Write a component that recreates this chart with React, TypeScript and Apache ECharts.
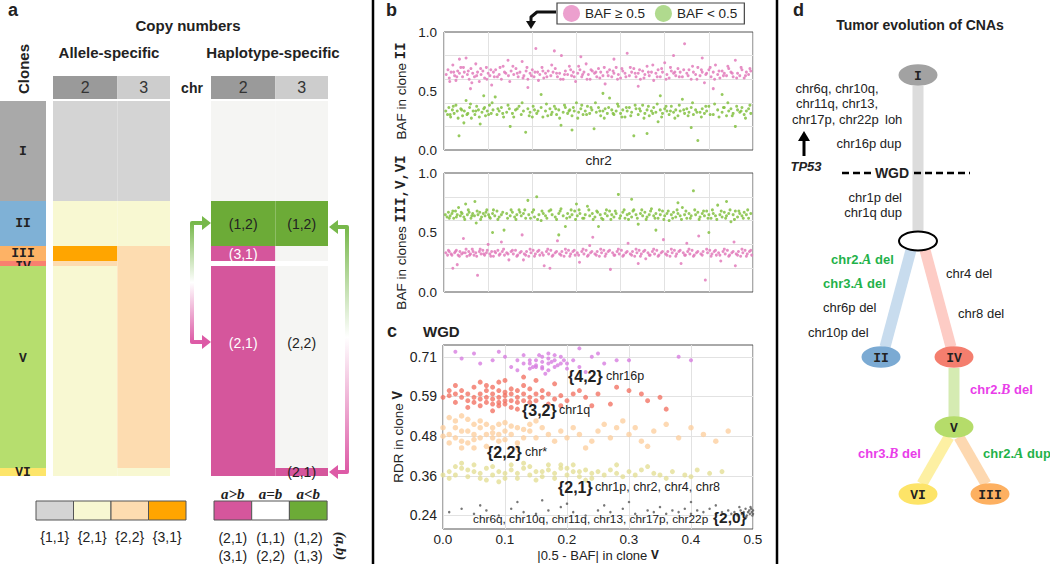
import React, { useEffect, useRef } from 'react';
import * as echarts from 'echarts';

const FF = 'Liberation Sans';
const MONO = 'Liberation Mono';
const SERIF = 'Liberation Serif';

// ---------- Panel a data ----------
const chrNames = ['2', '3'];
const chrLengths = [242, 198];
const cloneNames = ['I', 'II', 'III', 'IV', 'V', 'VI'];
const cloneSizes = [100, 45, 15, 5, 202, 8];
const cloneColors = ['#a9a9a9', '#7fb1d6', '#fdb265', '#f9806f', '#b6de6e', '#fde56a'];
const alleleStates = [
  ['1,1', '1,1'],
  ['2,1', '2,1'],
  ['3,1', '2,2'],
  ['2,2', '2,2'],
  ['2,1', '2,2'],
  ['2,1', '2,1'],
];
const haploStates = [
  ['1,1', '1,1'],
  ['1,2', '1,2'],
  ['3,1', '2,2'],
  ['-', '-'],
  ['2,1', '2,2'],
  ['2,1', '2,1'],
];
const haploText = [
  ['', ''],
  ['(1,2)', '(1,2)'],
  ['(3,1)', ''],
  ['', ''],
  ['(2,1)', '(2,2)'],
  ['', '(2,1)'],
];
const alleleLegend = ['{1,1}', '{2,1}', '{2,2}', '{3,1}'];
const alleleLegendKeys = ['1,1', '2,1', '2,2', '3,1'];
const haploLegendTop = ['a>b', 'a=b', 'a<b'];
const haploLegendRow1 = ['(2,1)', '(1,1)', '(1,2)'];
const haploLegendRow2 = ['(3,1)', '(2,2)', '(1,3)'];

// ---------- Panel b data ----------
const b1Pink = [[0.05,0.64],[0.09,0.68],[0.12,0.61],[0.16,0.66],[0.2,0.72],[0.24,0.63],[0.27,0.59],[0.31,0.67],[0.35,0.65],[0.38,0.7],[0.42,0.62],[0.46,0.66],[0.5,0.78],[0.53,0.64],[0.57,0.6],[0.61,0.69],[0.65,0.65],[0.69,0.62],[0.72,0.73],[0.76,0.66],[0.8,0.58],[0.84,0.64],[0.88,0.67],[0.92,0.61],[0.96,0.7],[1.0,0.65],[1.04,0.63],[1.08,0.55],[1.12,0.66],[1.17,0.68],[1.21,0.62],[1.25,0.64],[1.3,0.6],[1.34,0.71],[1.4,0.65],[1.46,0.63],[1.52,0.67],[1.58,0.64],[1.63,0.69],[1.68,0.62],[1.72,0.66],[1.77,0.75],[1.81,0.63],[1.86,0.67],[1.9,0.6],[1.95,0.65],[2.0,0.68],[2.04,0.62],[2.08,0.86],[2.12,0.66],[2.17,0.64],[2.22,0.7],[2.26,0.61],[2.3,0.65],[2.36,0.67],[2.42,0.63],[2.47,0.66],[2.52,0.69],[2.57,0.62],[2.62,0.65],[2.66,0.8],[2.7,0.6],[2.75,0.67],[2.8,0.64],[2.84,0.71],[2.89,0.63],[2.93,0.66],[2.98,0.58],[3.03,0.65],[3.08,0.68],[3.12,0.62],[3.17,0.66],[3.22,0.73],[3.27,0.64],[3.31,0.6],[3.36,0.67],[3.41,0.65],[3.46,0.62],[3.5,0.69],[3.55,0.66],[3.6,0.63],[3.65,0.56],[3.7,0.66],[3.75,0.68],[3.8,0.62],[3.85,0.65],[3.9,0.7],[3.95,0.64],[4.0,0.61],[4.05,0.67],[4.1,0.65],[4.15,0.82],[4.2,0.63],[4.25,0.66],[4.3,0.69],[4.35,0.62],[4.4,0.65],[4.45,0.6],[4.5,0.67],[4.55,0.64],[4.6,0.71],[4.65,0.63],[4.7,0.66],[4.75,0.59],[4.8,0.65],[4.85,0.68],[4.9,0.62],[4.95,0.66],[5.0,0.74],[5.05,0.64],[5.1,0.61],[5.15,0.67],[5.2,0.65],[5.25,0.63],[5.3,0.69],[5.35,0.66],[5.4,0.62],[5.45,0.9],[5.5,0.65],[5.55,0.68],[5.6,0.6],[5.65,0.66],[5.7,0.64],[5.75,0.7],[5.8,0.63],[5.85,0.66],[5.9,0.57],[5.95,0.65],[6.0,0.68],[6.05,0.62],[6.1,0.66],[6.15,0.72],[6.2,0.64],[6.25,0.61],[6.3,0.67],[6.35,0.65],[6.4,0.63],[6.45,0.69],[6.5,0.66],[6.55,0.62],[6.6,0.76],[6.65,0.65],[6.7,0.63],[6.75,0.68],[6.8,0.61],[6.85,0.66],[6.9,0.64],[6.95,0.67]];
const b1PinkB = [[0.13,0.58],[0.22,0.66],[0.29,0.62],[0.44,0.7],[0.55,0.67],[0.63,0.57],[0.74,0.63],[0.83,0.69],[0.97,0.6],[1.06,0.68],[1.14,0.62],[1.27,0.7],[1.37,0.66],[1.49,0.58],[1.56,0.71],[1.66,0.65],[1.79,0.61],[1.88,0.7],[1.98,0.63],[2.06,0.66],[2.14,0.59],[2.24,0.67],[2.33,0.62],[2.44,0.72],[2.55,0.65],[2.64,0.6],[2.73,0.64],[2.87,0.68],[2.95,0.62],[3.05,0.71],[3.14,0.64],[3.24,0.6],[3.33,0.68],[3.44,0.66],[3.53,0.61],[3.63,0.7],[3.72,0.63],[3.83,0.67],[3.93,0.6],[4.03,0.69],[4.12,0.62],[4.22,0.7],[4.33,0.65],[4.43,0.68],[4.53,0.61],[4.63,0.66],[4.73,0.72],[4.83,0.62],[4.93,0.69],[5.03,0.6],[5.13,0.7],[5.23,0.66],[5.33,0.62],[5.43,0.68],[5.53,0.63],[5.63,0.71],[5.73,0.6],[5.83,0.68],[5.93,0.64],[6.03,0.7],[6.13,0.6],[6.23,0.67],[6.33,0.63],[6.43,0.71],[6.53,0.65],[6.63,0.61],[6.73,0.7],[6.83,0.63],[6.93,0.69],[0.6,0.52],[1.9,0.53],[3.1,0.79],[4.4,0.54],[5.2,0.8],[6.1,0.52],[2.5,0.84],[0.35,0.77],[1.45,0.76],[3.85,0.77],[5.85,0.78]];
const b1Green = [[0.04,0.33],[0.08,0.3],[0.11,0.36],[0.15,0.28],[0.19,0.34],[0.23,0.31],[0.27,0.38],[0.3,0.33],[0.34,0.12],[0.38,0.35],[0.42,0.29],[0.46,0.33],[0.5,0.42],[0.54,0.31],[0.58,0.36],[0.62,0.27],[0.66,0.33],[0.7,0.3],[0.74,0.37],[0.78,0.34],[0.82,0.22],[0.86,0.32],[0.9,0.35],[0.94,0.29],[0.98,0.33],[1.03,0.38],[1.07,0.31],[1.11,0.34],[1.16,0.45],[1.2,0.3],[1.25,0.33],[1.3,0.36],[1.35,0.28],[1.42,0.32],[1.48,0.35],[1.55,0.31],[1.62,0.34],[1.7,0.37],[1.75,0.3],[1.8,0.33],[1.85,0.15],[1.9,0.35],[1.95,0.32],[2.0,0.28],[2.05,0.34],[2.1,0.31],[2.2,0.36],[2.3,0.33],[2.35,0.29],[2.4,0.35],[2.45,0.32],[2.5,0.37],[2.55,0.3],[2.6,0.34],[2.65,0.21],[2.7,0.32],[2.75,0.36],[2.8,0.31],[2.85,0.34],[2.9,0.29],[2.95,0.33],[3.0,0.4],[3.05,0.32],[3.1,0.35],[3.15,0.3],[3.2,0.33],[3.25,0.37],[3.3,0.31],[3.35,0.34],[3.4,0.18],[3.45,0.32],[3.5,0.36],[3.55,0.29],[3.6,0.33],[3.65,0.35],[3.7,0.31],[3.75,0.44],[3.8,0.34],[3.85,0.3],[3.9,0.33],[3.95,0.37],[4.0,0.31],[4.05,0.34],[4.1,0.28],[4.15,0.33],[4.2,0.36],[4.25,0.32],[4.3,0.12],[4.35,0.35],[4.4,0.3],[4.45,0.33],[4.5,0.38],[4.55,0.31],[4.6,0.34],[4.65,0.29],[4.7,0.33],[4.75,0.36],[4.8,0.32],[4.85,0.24],[4.9,0.34],[4.95,0.31],[5.0,0.35],[5.05,0.33],[5.1,0.3],[5.15,0.37],[5.2,0.32],[5.25,0.34],[5.3,0.29],[5.35,0.33],[5.4,0.43],[5.45,0.31],[5.5,0.35],[5.55,0.32],[5.6,0.36],[5.65,0.3],[5.7,0.34],[5.75,0.08],[5.8,0.32],[5.85,0.35],[5.9,0.31],[5.95,0.33],[6.0,0.37],[6.1,0.3],[6.2,0.34],[6.3,0.32],[6.35,0.36],[6.4,0.29],[6.45,0.33],[6.5,0.35],[6.55,0.31],[6.6,0.2],[6.65,0.34],[6.7,0.32],[6.75,0.36],[6.8,0.3],[6.85,0.33],[6.9,0.35],[6.95,0.31]];
const b1GreenB = [[0.14,0.3],[0.21,0.37],[0.32,0.27],[0.4,0.34],[0.52,0.3],[0.6,0.39],[0.72,0.33],[0.8,0.28],[0.92,0.36],[1.01,0.3],[1.09,0.4],[1.22,0.35],[1.33,0.31],[1.45,0.38],[1.58,0.28],[1.66,0.35],[1.77,0.4],[1.93,0.29],[2.02,0.37],[2.13,0.33],[2.24,0.28],[2.32,0.39],[2.43,0.3],[2.53,0.35],[2.62,0.27],[2.73,0.38],[2.83,0.33],[2.93,0.36],[3.03,0.27],[3.12,0.38],[3.23,0.3],[3.33,0.36],[3.43,0.4],[3.53,0.33],[3.63,0.27],[3.73,0.36],[3.83,0.31],[3.93,0.39],[4.03,0.28],[4.13,0.36],[4.23,0.29],[4.33,0.38],[4.43,0.35],[4.53,0.27],[4.63,0.37],[4.73,0.31],[4.83,0.39],[4.93,0.28],[5.03,0.37],[5.13,0.33],[5.23,0.27],[5.33,0.38],[5.43,0.34],[5.53,0.29],[5.63,0.4],[5.73,0.32],[5.83,0.28],[5.93,0.37],[6.03,0.3],[6.13,0.39],[6.23,0.28],[6.33,0.36],[6.43,0.4],[6.53,0.29],[6.63,0.37],[6.73,0.33],[6.83,0.27],[6.93,0.38],[0.9,0.46],[2.2,0.47],[3.6,0.48],[4.9,0.46],[6.3,0.47],[1.5,0.2],[2.9,0.17],[4.6,0.14],[5.6,0.19],[0.45,0.23]];
const b2Green = [[0.03,0.65],[0.07,0.63],[0.1,0.67],[0.14,0.64],[0.18,0.66],[0.22,0.62],[0.26,0.68],[0.3,0.65],[0.33,0.71],[0.37,0.64],[0.41,0.66],[0.45,0.63],[0.49,0.74],[0.53,0.65],[0.57,0.67],[0.61,0.62],[0.65,0.66],[0.69,0.64],[0.73,0.58],[0.77,0.65],[0.81,0.67],[0.85,0.63],[0.89,0.66],[0.93,0.64],[0.97,0.69],[1.01,0.65],[1.05,0.62],[1.1,0.66],[1.15,0.64],[1.2,0.68],[1.25,0.63],[1.3,0.65],[1.36,0.52],[1.42,0.66],[1.5,0.64],[1.55,0.67],[1.6,0.63],[1.65,0.65],[1.7,0.69],[1.75,0.64],[1.8,0.66],[1.85,0.62],[1.92,0.65],[2.0,0.67],[2.05,0.63],[2.1,0.8],[2.15,0.65],[2.2,0.6],[2.25,0.66],[2.3,0.64],[2.38,0.68],[2.45,0.65],[2.52,0.63],[2.6,0.66],[2.65,0.7],[2.7,0.64],[2.75,0.55],[2.8,0.66],[2.85,0.63],[2.9,0.65],[2.96,0.68],[3.02,0.64],[3.08,0.66],[3.14,0.62],[3.2,0.65],[3.25,0.72],[3.3,0.64],[3.36,0.66],[3.42,0.63],[3.48,0.67],[3.54,0.65],[3.6,0.61],[3.65,0.66],[3.7,0.64],[3.75,0.68],[3.8,0.65],[3.85,0.63],[3.9,0.66],[3.95,0.82],[4.0,0.64],[4.05,0.67],[4.1,0.62],[4.15,0.65],[4.2,0.66],[4.25,0.63],[4.3,0.69],[4.35,0.65],[4.4,0.57],[4.45,0.66],[4.5,0.64],[4.55,0.67],[4.6,0.63],[4.65,0.65],[4.7,0.7],[4.75,0.64],[4.8,0.66],[4.85,0.62],[4.9,0.65],[4.95,0.68],[5.0,0.64],[5.05,0.66],[5.1,0.6],[5.15,0.65],[5.2,0.67],[5.25,0.63],[5.3,0.66],[5.35,0.64],[5.4,0.71],[5.45,0.65],[5.5,0.62],[5.55,0.66],[5.6,0.64],[5.65,0.85],[5.7,0.65],[5.75,0.67],[5.8,0.63],[5.85,0.66],[5.9,0.64],[5.95,0.68],[6.0,0.65],[6.05,0.62],[6.1,0.66],[6.15,0.64],[6.2,0.73],[6.25,0.65],[6.3,0.63],[6.35,0.67],[6.4,0.64],[6.45,0.66],[6.5,0.59],[6.55,0.65],[6.6,0.68],[6.65,0.63],[6.7,0.66],[6.75,0.64],[6.8,0.67],[6.85,0.65],[6.9,0.62],[6.95,0.66]];
const b2GreenB = [[0.12,0.62],[0.2,0.68],[0.28,0.63],[0.39,0.67],[0.47,0.61],[0.55,0.69],[0.63,0.64],[0.75,0.68],[0.83,0.61],[0.95,0.67],[1.03,0.63],[1.12,0.69],[1.22,0.61],[1.33,0.67],[1.44,0.62],[1.52,0.69],[1.63,0.61],[1.72,0.67],[1.83,0.69],[1.96,0.62],[2.03,0.69],[2.12,0.61],[2.22,0.68],[2.33,0.62],[2.42,0.69],[2.55,0.61],[2.63,0.68],[2.78,0.62],[2.88,0.69],[2.98,0.61],[3.06,0.69],[3.17,0.62],[3.28,0.69],[3.38,0.61],[3.46,0.68],[3.57,0.62],[3.68,0.69],[3.78,0.61],[3.88,0.68],[3.98,0.62],[4.08,0.69],[4.18,0.61],[4.28,0.68],[4.38,0.62],[4.48,0.69],[4.58,0.61],[4.68,0.68],[4.78,0.62],[4.88,0.69],[4.98,0.61],[5.08,0.68],[5.18,0.62],[5.28,0.69],[5.38,0.61],[5.48,0.68],[5.58,0.62],[5.68,0.69],[5.78,0.61],[5.88,0.68],[5.98,0.62],[6.08,0.69],[6.18,0.61],[6.28,0.68],[6.38,0.62],[6.48,0.69],[6.58,0.61],[6.68,0.68],[6.78,0.62],[6.88,0.69],[0.7,0.76],[1.9,0.77],[3.0,0.74],[4.25,0.78],[5.3,0.75],[6.4,0.76],[1.1,0.5],[2.6,0.48],[3.5,0.55],[4.8,0.52],[6.0,0.5]];
const b2Pink = [[0.04,0.33],[0.08,0.31],[0.12,0.34],[0.16,0.32],[0.2,0.2],[0.24,0.33],[0.28,0.35],[0.32,0.31],[0.36,0.34],[0.4,0.32],[0.44,0.45],[0.48,0.33],[0.52,0.3],[0.56,0.34],[0.6,0.32],[0.64,0.36],[0.68,0.31],[0.72,0.33],[0.76,0.14],[0.8,0.34],[0.84,0.32],[0.88,0.35],[0.92,0.31],[0.96,0.33],[1.0,0.4],[1.04,0.32],[1.08,0.34],[1.12,0.3],[1.17,0.33],[1.22,0.35],[1.27,0.32],[1.32,0.34],[1.37,0.31],[1.42,0.33],[1.47,0.27],[1.52,0.34],[1.57,0.32],[1.62,0.35],[1.67,0.31],[1.72,0.33],[1.77,0.48],[1.82,0.32],[1.87,0.34],[1.92,0.3],[1.97,0.33],[2.02,0.35],[2.07,0.32],[2.12,0.34],[2.17,0.31],[2.22,0.33],[2.27,0.22],[2.32,0.34],[2.37,0.32],[2.42,0.35],[2.47,0.31],[2.52,0.33],[2.57,0.43],[2.62,0.32],[2.67,0.34],[2.72,0.3],[2.77,0.33],[2.82,0.35],[2.87,0.32],[2.92,0.34],[2.97,0.31],[3.02,0.33],[3.07,0.25],[3.12,0.34],[3.17,0.32],[3.22,0.35],[3.27,0.31],[3.32,0.33],[3.37,0.46],[3.42,0.32],[3.47,0.34],[3.52,0.3],[3.57,0.33],[3.62,0.35],[3.67,0.32],[3.72,0.34],[3.77,0.19],[3.82,0.33],[3.87,0.31],[3.92,0.34],[3.97,0.32],[4.02,0.35],[4.07,0.31],[4.12,0.33],[4.17,0.41],[4.22,0.32],[4.27,0.34],[4.32,0.3],[4.37,0.33],[4.42,0.35],[4.47,0.32],[4.52,0.34],[4.57,0.28],[4.62,0.33],[4.67,0.31],[4.72,0.34],[4.77,0.32],[4.82,0.35],[4.87,0.31],[4.92,0.33],[4.97,0.44],[5.02,0.32],[5.07,0.34],[5.12,0.3],[5.17,0.33],[5.22,0.35],[5.27,0.32],[5.32,0.34],[5.37,0.24],[5.42,0.33],[5.47,0.31],[5.52,0.34],[5.57,0.32],[5.62,0.35],[5.67,0.31],[5.72,0.33],[5.77,0.47],[5.82,0.32],[5.87,0.34],[5.92,0.1],[5.97,0.33],[6.02,0.35],[6.07,0.32],[6.12,0.34],[6.17,0.31],[6.22,0.33],[6.27,0.26],[6.32,0.34],[6.37,0.32],[6.42,0.35],[6.47,0.31],[6.52,0.33],[6.57,0.42],[6.62,0.32],[6.67,0.34],[6.72,0.3],[6.77,0.33],[6.82,0.35],[6.87,0.32],[6.92,0.34],[6.97,0.31]];
const b2PinkB = [[0.1,0.35],[0.18,0.31],[0.26,0.34],[0.35,0.3],[0.43,0.33],[0.5,0.36],[0.58,0.31],[0.66,0.34],[0.74,0.3],[0.82,0.36],[0.9,0.32],[0.98,0.35],[1.06,0.3],[1.15,0.34],[1.25,0.31],[1.35,0.36],[1.45,0.32],[1.55,0.35],[1.65,0.3],[1.75,0.34],[1.85,0.31],[1.95,0.36],[2.05,0.3],[2.15,0.35],[2.25,0.31],[2.35,0.36],[2.45,0.3],[2.55,0.34],[2.65,0.31],[2.75,0.36],[2.85,0.3],[2.95,0.35],[3.05,0.31],[3.15,0.36],[3.25,0.3],[3.35,0.34],[3.45,0.31],[3.55,0.36],[3.65,0.3],[3.75,0.35],[3.85,0.31],[3.95,0.36],[4.05,0.3],[4.15,0.34],[4.25,0.31],[4.35,0.36],[4.45,0.3],[4.55,0.35],[4.65,0.31],[4.75,0.36],[4.85,0.3],[4.95,0.34],[5.05,0.31],[5.15,0.36],[5.25,0.3],[5.35,0.35],[5.45,0.31],[5.55,0.36],[5.65,0.3],[5.75,0.34],[5.85,0.31],[5.95,0.36],[6.05,0.3],[6.15,0.35],[6.25,0.31],[6.35,0.36],[6.45,0.3],[6.55,0.34],[6.65,0.31],[6.75,0.36],[6.85,0.3],[6.95,0.35],[0.3,0.23],[1.3,0.42],[2.4,0.2],[3.3,0.39],[4.4,0.24],[5.5,0.41],[6.6,0.22],[1.8,0.27]];
const bYLabels = [0, 0.5, 1];
const bYGrid = [0.2, 0.4, 0.6, 0.8];

// ---------- Panel c data ----------
const cYTickVals = [0.24, 0.3575, 0.475, 0.5925, 0.71];
const cYTickLabels = ['0.24', '0.36', '0.48', '0.59', '0.71'];
const cMagenta = [[0.14,0.69],[0.15,0.7],[0.16,0.68],[0.17,0.69],[0.18,0.7],[0.16,0.71],[0.15,0.68],[0.17,0.67],[0.19,0.69],[0.14,0.7],[0.18,0.68],[0.16,0.695],[0.17,0.705],[0.15,0.685],[0.13,0.69],[0.2,0.69],[0.19,0.71],[0.17,0.72],[0.14,0.675],[0.2,0.675],[0.12,0.7],[0.21,0.7],[0.165,0.66],[0.155,0.715],[0.185,0.685],[0.175,0.695],[0.145,0.68],[0.195,0.7],[0.16,0.675],[0.18,0.715],[0.11,0.68],[0.22,0.68],[0.1,0.71],[0.24,0.71],[0.08,0.7],[0.26,0.69],[0.05,0.72],[0.28,0.7],[0.03,0.705],[0.06,0.69],[0.09,0.725],[0.23,0.665],[0.12,0.67],[0.25,0.72],[0.02,0.725],[0.3,0.7],[0.38,0.71],[0.4,0.7],[0.22,0.735],[0.13,0.715]];
const cRed = [[0.09,0.59],[0.08,0.6],[0.1,0.58],[0.07,0.59],[0.11,0.6],[0.09,0.575],[0.1,0.605],[0.08,0.585],[0.12,0.59],[0.06,0.6],[0.11,0.58],[0.09,0.61],[0.07,0.575],[0.13,0.6],[0.05,0.59],[0.1,0.595],[0.08,0.57],[0.12,0.575],[0.06,0.585],[0.14,0.59],[0.04,0.6],[0.11,0.615],[0.09,0.565],[0.13,0.58],[0.05,0.575],[0.07,0.61],[0.15,0.6],[0.03,0.59],[0.12,0.61],[0.1,0.57],[0.06,0.565],[0.14,0.575],[0.02,0.6],[0.16,0.59],[0.08,0.62],[0.04,0.58],[0.15,0.58],[0.01,0.595],[0.17,0.6],[0.03,0.61],[0.11,0.56],[0.18,0.585],[0.02,0.575],[0.07,0.625],[0.16,0.61],[0.0,0.59],[0.19,0.595],[0.05,0.62],[0.13,0.625],[0.2,0.58],[0.01,0.61],[0.09,0.635],[0.12,0.555],[0.04,0.56],[0.21,0.6],[0.17,0.57],[0.06,0.635],[0.14,0.615],[0.23,0.59],[0.02,0.625],[0.1,0.64],[0.19,0.565],[0.08,0.55],[0.22,0.61],[0.25,0.6],[0.27,0.57],[0.3,0.61],[0.33,0.58],[0.35,0.59],[0.28,0.62],[0.24,0.565],[0.13,0.65],[0.18,0.63],[0.15,0.64],[0.36,0.555],[0.32,0.6]];
const cPeach = [[0.01,0.48],[0.02,0.5],[0.03,0.46],[0.04,0.49],[0.05,0.51],[0.06,0.47],[0.07,0.48],[0.08,0.5],[0.09,0.46],[0.1,0.49],[0.02,0.52],[0.03,0.44],[0.05,0.48],[0.06,0.5],[0.08,0.47],[0.11,0.48],[0.12,0.5],[0.13,0.47],[0.0,0.5],[0.01,0.455],[0.04,0.525],[0.07,0.445],[0.09,0.51],[0.1,0.465],[0.12,0.455],[0.14,0.49],[0.15,0.47],[0.16,0.5],[0.02,0.47],[0.04,0.455],[0.06,0.52],[0.08,0.485],[0.11,0.505],[0.13,0.495],[0.0,0.475],[0.03,0.49],[0.05,0.465],[0.07,0.51],[0.09,0.48],[0.1,0.515],[0.17,0.48],[0.18,0.46],[0.19,0.49],[0.2,0.47],[0.21,0.5],[0.22,0.48],[0.24,0.46],[0.25,0.49],[0.27,0.47],[0.28,0.5],[0.3,0.48],[0.32,0.46],[0.34,0.49],[0.36,0.51],[0.38,0.47],[0.4,0.5],[0.42,0.48],[0.44,0.46],[0.15,0.52],[0.23,0.44],[0.29,0.52],[0.33,0.445],[0.01,0.53],[0.03,0.535],[0.05,0.44],[0.12,0.44],[0.14,0.51],[0.26,0.51],[0.31,0.5],[0.46,0.49]];
const cKhaki = [[0.01,0.37],[0.02,0.36],[0.03,0.38],[0.04,0.355],[0.05,0.37],[0.06,0.365],[0.07,0.38],[0.08,0.36],[0.09,0.37],[0.1,0.35],[0.11,0.375],[0.12,0.365],[0.13,0.38],[0.14,0.36],[0.15,0.37],[0.16,0.355],[0.17,0.375],[0.18,0.365],[0.19,0.38],[0.2,0.36],[0.21,0.37],[0.22,0.355],[0.23,0.375],[0.24,0.365],[0.25,0.37],[0.0,0.36],[0.02,0.385],[0.04,0.375],[0.06,0.35],[0.08,0.385],[0.1,0.365],[0.12,0.35],[0.14,0.385],[0.16,0.37],[0.18,0.35],[0.2,0.38],[0.22,0.37],[0.24,0.35],[0.26,0.36],[0.27,0.375],[0.28,0.365],[0.29,0.355],[0.3,0.37],[0.31,0.36],[0.32,0.375],[0.34,0.365],[0.35,0.36],[0.37,0.37],[0.39,0.36],[0.41,0.375],[0.43,0.365],[0.45,0.37],[0.03,0.395],[0.07,0.345],[0.11,0.39],[0.15,0.345],[0.19,0.39],[0.23,0.345],[0.05,0.39],[0.13,0.395],[0.09,0.34],[0.17,0.39],[0.21,0.39],[0.33,0.385],[0.36,0.35],[0.01,0.35],[0.28,0.39],[0.4,0.355]];
const cGray = [[0.01,0.25],[0.03,0.26],[0.05,0.245],[0.07,0.255],[0.09,0.24],[0.11,0.26],[0.13,0.25],[0.15,0.245],[0.17,0.255],[0.19,0.265],[0.21,0.25],[0.23,0.24],[0.25,0.255],[0.27,0.25],[0.29,0.26],[0.31,0.245],[0.33,0.255],[0.34,0.25],[0.35,0.265],[0.36,0.245],[0.37,0.255],[0.38,0.25],[0.39,0.26],[0.4,0.245],[0.41,0.255],[0.42,0.25],[0.43,0.26],[0.44,0.245],[0.45,0.25],[0.46,0.255],[0.465,0.245],[0.47,0.25],[0.475,0.24],[0.48,0.255],[0.482,0.245],[0.485,0.25],[0.488,0.26],[0.49,0.24],[0.492,0.25],[0.494,0.255],[0.495,0.245],[0.497,0.26],[0.498,0.25],[0.499,0.24],[0.5,0.255],[0.5,0.245],[0.496,0.265],[0.489,0.235],[0.478,0.265],[0.12,0.28],[0.2,0.275],[0.3,0.28],[0.06,0.27],[0.26,0.27],[0.44,0.27],[0.16,0.285],[0.4,0.28]];

// ---------- colours ----------
const alleleColors: Record<string, string> = { '1,1': '#d4d4d4', '2,1': '#f8f8d2', '2,2': '#fddcb0', '3,1': '#ffa500' };
const haploColors: Record<string, string> = { '1,1': '#f5f5f3', '2,2': '#f5f5f3', '1,2': '#6cab37', '3,1': '#d5569c', '2,1': '#d5569c', '-': '#ffffff' };
const haploLegendColors = ['#d5569c', '#ffffff', '#6cab37'];
const PINK = '#e27bbb';
const GREEN = '#84c142';
const DGREEN = '#1fb24a';
const MAG = '#e93de9';

const cloneStarts: number[] = [];
let accC = 0;
for (const s of cloneSizes) { cloneStarts.push(accC); accC += s; }
const totalCells = accC;
const chrStarts: number[] = [];
let accL = 0;
for (const l of chrLengths) { chrStarts.push(accL); accL += l; }
const totalLen = accL;

type Cell = { x0: number; x1: number; y0: number; y1: number; color: string; text?: string; textColor?: string; font?: any; frac?: number };

const alleleCells: Cell[] = [];
const haploCells: Cell[] = [];
const cloneCells: Cell[] = [];
cloneNames.forEach((cl, i) => {
  cloneCells.push({ x0: 0, x1: 1, y0: cloneStarts[i], y1: cloneStarts[i] + cloneSizes[i], color: cloneColors[i], text: cl, textColor: '#222',
    font: { fontFamily: MONO, fontWeight: 'bold', fontSize: 13 }, frac: i === 3 ? 1.1 : i === 4 ? 0.46 : 0.5 });
  chrLengths.forEach((len, j) => {
    const base = { x0: chrStarts[j], x1: chrStarts[j] + len, y0: cloneStarts[i], y1: cloneStarts[i] + cloneSizes[i] };
    alleleCells.push({ ...base, color: alleleColors[alleleStates[i][j]] });
    const hs = haploStates[i][j];
    haploCells.push({ ...base, color: haploColors[hs], text: haploText[i][j],
      textColor: (hs === '3,1' || hs === '2,1') && i !== 5 ? '#ffffff' : '#222',
      font: { fontFamily: FF, fontSize: 14 }, frac: i === 4 ? 0.38 : 0.5 });
  });
});
const headerCells: Cell[] = chrNames.map((c, j) => ({ x0: chrStarts[j], x1: chrStarts[j] + chrLengths[j], y0: 0, y1: 1,
  color: j === 0 ? '#9a9a9a' : '#cdcdcd', text: c, textColor: '#333', font: { fontFamily: FF, fontSize: 16 }, frac: 0.5 }));

const cellRender = (cells: Cell[]) => (params: any, api: any) => {
  const it = cells[params.dataIndex];
  const p0 = api.coord([it.x0, it.y0]);
  const p1 = api.coord([it.x1, it.y1]);
  const children: any[] = [{ type: 'rect', shape: { x: p0[0], y: p0[1], width: p1[0] - p0[0], height: p1[1] - p0[1] }, style: { fill: it.color } }];
  if (it.text) {
    children.push({ type: 'text', x: (p0[0] + p1[0]) / 2, y: p0[1] + (p1[1] - p0[1]) * (it.frac ?? 0.5),
      style: { text: it.text, fill: it.textColor, ...it.font, align: 'center', verticalAlign: 'middle', textAlign: 'center', textVerticalAlign: 'middle' } });
  }
  return { type: 'group', children };
};
const cellSeries = (cells: Cell[], idx: number) => ({
  type: 'custom', xAxisIndex: idx, yAxisIndex: idx, renderItem: cellRender(cells), clip: false, silent: true,
  data: cells.map(c => [c.x0, c.x1, c.y0, c.y1]), encode: { x: [0, 1], y: [2, 3] }, z: 2,
});

// ---------- helpers for graphic ----------
const T = (x: number, y: number, text: string, o: any = {}) => ({
  type: 'text', x, y, rotation: o.rot ?? 0, silent: true, z: 10,
  style: {
    text, fill: o.fill ?? '#222', fontSize: o.size ?? 13, fontFamily: o.family ?? FF, fontWeight: o.weight ?? 'normal', fontStyle: o.style ?? 'normal',
    textAlign: o.align ?? 'left', textVerticalAlign: 'middle', align: o.align ?? 'left', verticalAlign: 'middle', rich: o.rich,
  },
});
const L = (x1: number, y1: number, x2: number, y2: number, stroke: string, w: number, extra: any = {}) => ({
  type: 'line', silent: true, z: extra.z ?? 5, shape: { x1, y1, x2, y2 }, style: { stroke, lineWidth: w, lineCap: extra.cap ?? 'butt', lineDash: extra.dash },
});
const E = (cx: number, cy: number, fill: string, stroke?: string) => ({
  type: 'ellipse', silent: true, z: 6, shape: { cx, cy, rx: 19.5, ry: 10.8 }, style: { fill, stroke: stroke ?? null, lineWidth: 2 },
});
const richCol = (col: string) => ({
  g: { fill: col, fontWeight: 'bold', fontSize: 13, fontFamily: FF },
  gi: { fill: col, fontWeight: 'bold', fontStyle: 'italic', fontSize: 14, fontFamily: SERIF },
});

function buildGraphic() {
  const g: any[] = [];
  // separators
  g.push(L(373, 0, 373, 564, '#000', 2.5));
  g.push(L(777, 0, 777, 564, '#000', 2.5));
  // ---- panel a texts
  g.push(T(8, 10, 'a', { size: 18, weight: 'bold' }));
  g.push(T(188, 25, 'Copy numbers', { size: 15, weight: 'bold', align: 'center' }));
  g.push(T(23, 69, 'Clones', { size: 15, weight: 'bold', align: 'center', rot: Math.PI / 2 }));
  g.push(T(109, 52, 'Allele-specific', { size: 15, weight: 'bold', align: 'center' }));
  g.push(T(273, 52, 'Haplotype-specific', { size: 15, weight: 'bold', align: 'center' }));
  g.push(T(192, 88, 'chr', { size: 14, weight: 'bold', align: 'center' }));
  // arrows in a
  const gradL = new echarts.graphic.LinearGradient(0, 0, 0, 1, [
    { offset: 0, color: '#77b84a' }, { offset: 0.5, color: '#ffffff' }, { offset: 1, color: '#dd5aa6' }]);
  g.push({ type: 'polyline', silent: true, z: 5, shape: { points: [[204, 223], [192, 223], [192, 342], [204, 342]] },
    style: { stroke: gradL, lineWidth: 4, lineJoin: 'round', fill: null } });
  g.push({ type: 'polygon', silent: true, z: 5, shape: { points: [[202, 216], [211, 223], [202, 230]] }, style: { fill: '#77b84a' } });
  g.push({ type: 'polygon', silent: true, z: 5, shape: { points: [[202, 335], [211, 342], [202, 349]] }, style: { fill: '#dd5aa6' } });
  const gradR = new echarts.graphic.LinearGradient(0, 0, 0, 1, [
    { offset: 0, color: '#77b84a' }, { offset: 0.45, color: '#ffffff' }, { offset: 1, color: '#dd5aa6' }]);
  g.push({ type: 'polyline', silent: true, z: 5, shape: { points: [[336, 227], [347, 227], [347, 472], [336, 472]] },
    style: { stroke: gradR, lineWidth: 4, lineJoin: 'round', fill: null } });
  g.push({ type: 'polygon', silent: true, z: 5, shape: { points: [[338, 220], [329, 227], [338, 234]] }, style: { fill: '#77b84a' } });
  g.push({ type: 'polygon', silent: true, z: 5, shape: { points: [[338, 465], [329, 472], [338, 479]] }, style: { fill: '#dd5aa6' } });
  // allele legend
  alleleLegend.forEach((lab, i) => {
    const x = 36 + i * 37.5;
    g.push({ type: 'rect', silent: true, z: 5, shape: { x, y: 501, width: 37.5, height: 19 }, style: { fill: alleleColors[alleleLegendKeys[i]], stroke: '#555', lineWidth: 1 } });
    g.push(T(x + 18.75, 537, lab, { size: 14, align: 'center' }));
  });
  // haplotype legend
  haploLegendTop.forEach((lab, i) => {
    const x = 214 + i * 37.7;
    g.push({ type: 'rect', silent: true, z: 5, shape: { x, y: 501, width: 37.7, height: 19 }, style: { fill: haploLegendColors[i], stroke: '#555', lineWidth: 1 } });
    g.push(T(x + 18.85, 494, lab, { size: 15, align: 'center', family: SERIF, weight: 'bold', style: 'italic' }));
    g.push(T(x + 18.85, 538, haploLegendRow1[i], { size: 14, align: 'center' }));
    g.push(T(x + 18.85, 556, haploLegendRow2[i], { size: 14, align: 'center' }));
  });
  g.push(T(341, 546, '(a,b)', { size: 15, align: 'center', family: SERIF, weight: 'bold', style: 'italic', rot: -Math.PI / 2 }));

  // ---- panel b
  g.push(T(386, 10, 'b', { size: 18, weight: 'bold' }));
  g.push({ type: 'polyline', silent: true, z: 5, shape: { points: [[556, 12], [537, 12], [531, 17], [531, 22]] }, style: { stroke: '#111', lineWidth: 3, fill: null, lineJoin: 'round' } });
  g.push({ type: 'polygon', silent: true, z: 5, shape: { points: [[526, 21], [531, 29], [536, 21]] }, style: { fill: '#111' } });

  // ---- panel c
  g.push(T(387, 331, 'c', { size: 18, weight: 'bold' }));
  g.push(T(423, 331, 'WGD', { size: 15, weight: 'bold' }));
  const cl = (x: number, y: number, b: string, t: string, gap: number) => {
    g.push(T(x, y, b, { size: 16, weight: 'bold' }));
    g.push(T(x + gap, y, t, { size: 12.5 }));
  };
  cl(568, 376, '{4,2}', 'chr16p', 38);
  cl(522, 410, '{3,2}', 'chr1q', 37);
  cl(487, 452, '{2,2}', 'chr*', 38);
  cl(558, 487, '{2,1}', 'chr1p, chr2, chr4, chr8', 37);
  g.push(T(473, 519, 'chr6q, chr10q, chr11q, chr13, chr17p, chr22p', { size: 11.8 }));
  g.push(T(713, 517, '{2,0}', { size: 15.5, weight: 'bold' }));

  // ---- panel d
  g.push(T(793, 10, 'd', { size: 18, weight: 'bold' }));
  g.push(T(920, 25, 'Tumor evolution of CNAs', { size: 14, weight: 'bold', align: 'center' }));
  // edges
  g.push(L(918, 86, 918, 232, '#dcdcdc', 11));
  g.push(L(911, 250, 885, 347, '#c8dcee', 11));
  g.push(L(925, 250, 951, 347, '#fdccc5', 11));
  g.push(L(954, 368, 954, 417, '#d5ebb2', 11));
  g.push(L(949, 437, 922, 484, '#fdf0a3', 11));
  g.push(L(959, 437, 986, 484, '#fdd8b0', 11));
  // nodes
  const nodes: [number, number, string, string][] = [
    [918, 75, '#a2a2a2', 'I'], [881, 357, '#7baad3', 'II'], [954, 357, '#f47e6e', 'IV'],
    [954, 427, '#b5dc6a', 'V'], [918, 494, '#fde468', 'VI'], [990, 494, '#fdb061', 'III'],
  ];
  nodes.forEach(([x, y, c, n]) => {
    g.push(E(x, y, c));
    g.push(T(x, y + 1, n, { size: 13, weight: 'bold', family: MONO, align: 'center' }));
  });
  g.push({ ...E(918, 241, '#ffffff', '#000'), shape: { cx: 918, cy: 241, rx: 19, ry: 9.5 } });
  // texts
  g.push(T(837, 88, 'chr6q, chr10q,', { align: 'center' }));
  g.push(T(837, 103, 'chr11q, chr13,', { align: 'center' }));
  g.push(T(792, 119, 'chr17p, chr22p', {}));
  g.push(T(885, 119, 'loh', {}));
  g.push(L(804, 156, 804, 139, '#000', 3));
  g.push({ type: 'polygon', silent: true, z: 5, shape: { points: [[798, 141], [804, 131], [810, 141]] }, style: { fill: '#000' } });
  g.push(T(806, 166, 'TP53', { weight: 'bold', style: 'italic', align: 'center' }));
  g.push(T(869, 143, 'chr16p dup', { align: 'center' }));
  g.push(L(842, 173, 871, 173, '#000', 2.5, { dash: [7, 4] }));
  g.push(L(914, 173, 970, 173, '#000', 2.5, { dash: [7, 4] }));
  g.push(T(892, 173, 'WGD', { size: 14, weight: 'bold', align: 'center' }));
  g.push(T(902, 197, 'chr1p del', { align: 'right' }));
  g.push(T(902, 212, 'chr1q dup', { align: 'right' }));
  g.push(T(831, 259, '{g|chr2.}{gi|A}{g| del}', { rich: richCol(DGREEN) }));
  g.push(T(823, 283, '{g|chr3.}{gi|A}{g| del}', { rich: richCol(DGREEN) }));
  g.push(T(823, 307, 'chr6p del', {}));
  g.push(T(808, 332, 'chr10p del', {}));
  g.push(T(946, 273, 'chr4 del', {}));
  g.push(T(958, 313, 'chr8 del', {}));
  g.push(T(970, 389, '{g|chr2.}{gi|B}{g| del}', { rich: richCol(MAG) }));
  g.push(T(858, 453, '{g|chr3.}{gi|B}{g| del}', { rich: richCol(MAG) }));
  g.push(T(983, 453, '{g|chr2.}{gi|A}{g| dup}', { rich: richCol(DGREEN) }));
  return g;
}

function buildOption() {
  const hidden = { show: false };
  const blankAxis = (min: number, max: number, inverse = false) => ({
    type: 'value', min, max, inverse, axisLine: hidden, axisTick: hidden, axisLabel: hidden, splitLine: hidden,
  });
  const nameStyle = {
    fontSize: 13.5, color: '#222', fontFamily: FF,
    rich: { m: { fontFamily: MONO, fontWeight: 'bold', fontSize: 14, color: '#222' } },
  };
  const xNameStyle = {
    fontSize: 13, color: '#222', fontFamily: FF, lineHeight: 14,
    rich: { m: { fontFamily: MONO, fontWeight: 'bold', fontSize: 13, color: '#222', lineHeight: 14 } },
  };
  const gridCommon = { outerBoundsMode: 'none', containLabel: false };
  const plotGrid = { show: true, borderColor: '#555', borderWidth: 1, backgroundColor: 'transparent' };
  const bY = (name: string) => ({
    type: 'value', min: 0, max: 1, name, nameLocation: 'middle', nameGap: 36, nameTextStyle: nameStyle,
    axisLine: hidden,
    axisTick: { show: false, customValues: bYGrid },
    axisLabel: { customValues: bYLabels, formatter: (v: number) => v.toFixed(1), fontSize: 13.5, color: '#222', fontFamily: FF, margin: 7 },
    splitLine: { show: true, lineStyle: { color: '#e2e2e2', width: 1 } },
  });
  const bX = (name?: string) => ({
    type: 'value', min: 0, max: 7, interval: 1, name: name ?? '', nameLocation: 'middle', nameGap: 3,
    nameTextStyle: { fontSize: 13.5, color: '#222', fontFamily: FF },
    axisLine: hidden, axisTick: hidden, axisLabel: hidden,
    splitLine: { show: true, lineStyle: { color: '#e2e2e2', width: 1 } },
  });
  const sc = (name: string, data: number[][], color: string, ax: number, size = 3, opacity = 0.85) => ({
    type: 'scatter', name, data, xAxisIndex: ax, yAxisIndex: ax, symbolSize: size, silent: true,
    itemStyle: { color, opacity }, z: 3,
  });

  return {
    animation: false,
    backgroundColor: '#ffffff',
    textStyle: { fontFamily: FF },
    legend: {
      show: true, left: 557, top: 3, orient: 'horizontal', icon: 'circle', itemWidth: 17, itemHeight: 17, itemGap: 10,
      selectedMode: false, borderColor: '#444', borderWidth: 1.2, padding: [2, 7, 2, 6],
      textStyle: { fontSize: 13.5, color: '#222', fontFamily: FF },
      data: [{ name: 'BAF ≥ 0.5', itemStyle: { color: '#e98fc6' } }, { name: 'BAF < 0.5', itemStyle: { color: '#a2d47a' } }],
    },
    grid: [
      { ...gridCommon, left: 0, top: 101, width: 46, height: 375 },
      { ...gridCommon, left: 53, top: 101, width: 117, height: 375 },
      { ...gridCommon, left: 211, top: 101, width: 117, height: 375 },
      { ...gridCommon, left: 53, top: 76, width: 117, height: 23 },
      { ...gridCommon, left: 211, top: 76, width: 117, height: 23 },
      { ...gridCommon, ...plotGrid, left: 444, top: 32, width: 309, height: 118 },
      { ...gridCommon, ...plotGrid, left: 444, top: 173, width: 309, height: 119 },
      { ...gridCommon, ...plotGrid, left: 443, top: 345, width: 310, height: 184 },
    ],
    xAxis: [
      { ...blankAxis(0, 1), gridIndex: 0 },
      { ...blankAxis(0, totalLen), gridIndex: 1 },
      { ...blankAxis(0, totalLen), gridIndex: 2 },
      { ...blankAxis(0, totalLen), gridIndex: 3 },
      { ...blankAxis(0, totalLen), gridIndex: 4 },
      { ...bX('chr2'), gridIndex: 5 },
      { ...bX(), gridIndex: 6 },
      {
        type: 'value', gridIndex: 7, min: 0, max: 0.5, interval: 0.1,
        name: '|0.5 - BAF| in clone {m|V}', nameLocation: 'middle', nameGap: 19, nameMoveOverlap: false, nameTextStyle: xNameStyle,
        axisLine: hidden, axisTick: hidden,
        axisLabel: { formatter: (v: number) => v.toFixed(1), fontSize: 13.5, lineHeight: 14, color: '#222', fontFamily: FF, margin: 3 },
        splitLine: { show: true, lineStyle: { color: '#e2e2e2' } },
      },
    ],
    yAxis: [
      { ...blankAxis(0, totalCells, true), gridIndex: 0 },
      { ...blankAxis(0, totalCells, true), gridIndex: 1 },
      { ...blankAxis(0, totalCells, true), gridIndex: 2 },
      { ...blankAxis(0, 1, true), gridIndex: 3 },
      { ...blankAxis(0, 1, true), gridIndex: 4 },
      { ...bY('BAF in clone {m|II}'), gridIndex: 5 },
      { ...bY('BAF in clones {m|III,V,VI}'), gridIndex: 6 },
      {
        type: 'value', gridIndex: 7, min: 0.2, max: 0.745,
        name: 'RDR in clone {m|V}', nameLocation: 'middle', nameGap: 38, nameTextStyle: nameStyle,
        axisLine: hidden,
        axisTick: { show: false, customValues: cYTickVals },
        axisLabel: {
          customValues: cYTickVals, fontSize: 14, color: '#222', fontFamily: FF, margin: 6,
          formatter: (v: number) => {
            let bi = 0;
            cYTickVals.forEach((t, i) => { if (Math.abs(t - v) < Math.abs(cYTickVals[bi] - v)) bi = i; });
            return cYTickLabels[bi];
          },
        },
        splitLine: { show: true, lineStyle: { color: '#e2e2e2' } },
      },
    ],
    series: [
      cellSeries(cloneCells, 0),
      cellSeries(alleleCells, 1),
      cellSeries(haploCells, 2),
      cellSeries(headerCells, 3),
      cellSeries(headerCells, 4),
      sc('BAF ≥ 0.5', b1Pink, PINK, 5),
      sc('BAF ≥ 0.5', b1PinkB, PINK, 5),
      sc('BAF < 0.5', b1Green, GREEN, 5),
      sc('BAF < 0.5', b1GreenB, GREEN, 5),
      sc('BAF < 0.5', b2Green, GREEN, 6),
      sc('BAF < 0.5', b2GreenB, GREEN, 6),
      sc('BAF ≥ 0.5', b2Pink, PINK, 6),
      sc('BAF ≥ 0.5', b2PinkB, PINK, 6),
      sc('{2,0}', cGray, '#555555', 7, 2.5, 0.8),
      sc('{2,1}', cKhaki, '#e3df96', 7, 5, 0.8),
      sc('{2,2}', cPeach, '#fdd0a0', 7, 5.5, 0.8),
      sc('{3,2}', cRed, '#f26b5b', 7, 5, 0.75),
      sc('{4,2}', cMagenta, '#d77de0', 7, 4, 0.8),
    ],
    graphic: buildGraphic(),
  };
}

export default function App() {
  const ref = useRef<HTMLDivElement>(null);
  useEffect(() => {
    if (!ref.current) return;
    const chart = echarts.init(ref.current, null, { renderer: 'svg' });
    chart.setOption(buildOption() as any);
    return () => chart.dispose();
  }, []);
  return <div ref={ref} style={{ position: 'absolute', left: 0, top: 0, width: 1050, height: 564, background: '#fff' }} />;
}
